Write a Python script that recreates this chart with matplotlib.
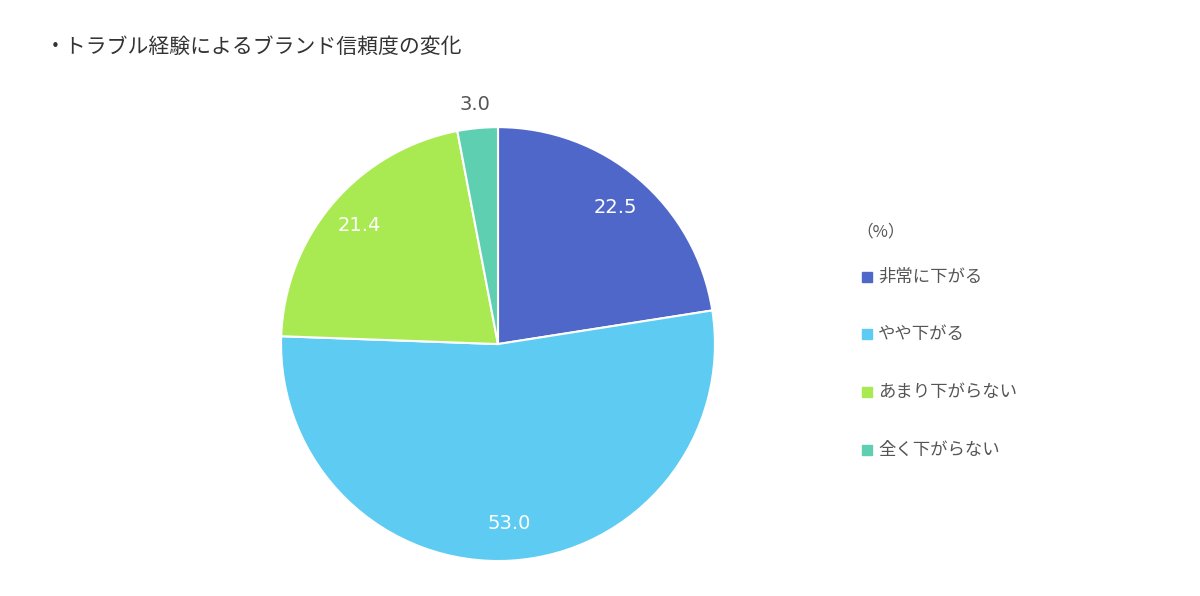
import numpy as np
import matplotlib
matplotlib.use("Agg")
import matplotlib.pyplot as plt

plt.rcParams['font.family'] = ['Noto Sans CJK JP', 'DejaVu Sans']

categories = ["非常に下がる", "やや下がる", "あまり下がらない", "全く下がらない"]
values = [22.5, 53.0, 21.4, 3.0]
colors = ["#4F67C9", "#5DCBF2", "#A9EA52", "#5ECFB1"]
label_colors = ["white", "white", "white", "#555555"]
label_radius = [0.83, 0.83, 0.84, 1.11]

fig = plt.figure(figsize=(12, 5.96), dpi=100)
ax = fig.add_axes([0.234, 0.0587, 0.362, 0.728])
wedges, _ = ax.pie(values, colors=colors, startangle=90, counterclock=False,
                   wedgeprops=dict(edgecolor="white", linewidth=1.5))
ax.set_aspect("equal")
ax.set_xlim(-1, 1)
ax.set_ylim(-1, 1)

for w, v, c, r in zip(wedges, values, label_colors, label_radius):
    ang = np.deg2rad((w.theta1 + w.theta2) / 2)
    ax.text(r * np.cos(ang), r * np.sin(ang), f"{v:.1f}", color=c,
            fontsize=14, ha="center", va="center", family="DejaVu Sans", clip_on=False)

fig.text(45 / 1200, 1 - 47 / 596, "・トラブル経験によるブランド信頼度の変化",
         fontsize=15, color="#333333", va="center")

fig.text(856 / 1200, 1 - 232 / 596, "（%）", fontsize=12, color="#555555", va="center")
ys = [277, 334, 392, 450]
for cat, col, y in zip(categories, colors, ys):
    fig.patches.append(plt.Rectangle((862 / 1200, 1 - (y + 5) / 596), 10 / 1200, 10 / 596,
                                     color=col, transform=fig.transFigure))
    fig.text(878 / 1200, 1 - y / 596, cat, fontsize=12.5, color="#555555", va="center")

fig.savefig("out.png", dpi=100)
